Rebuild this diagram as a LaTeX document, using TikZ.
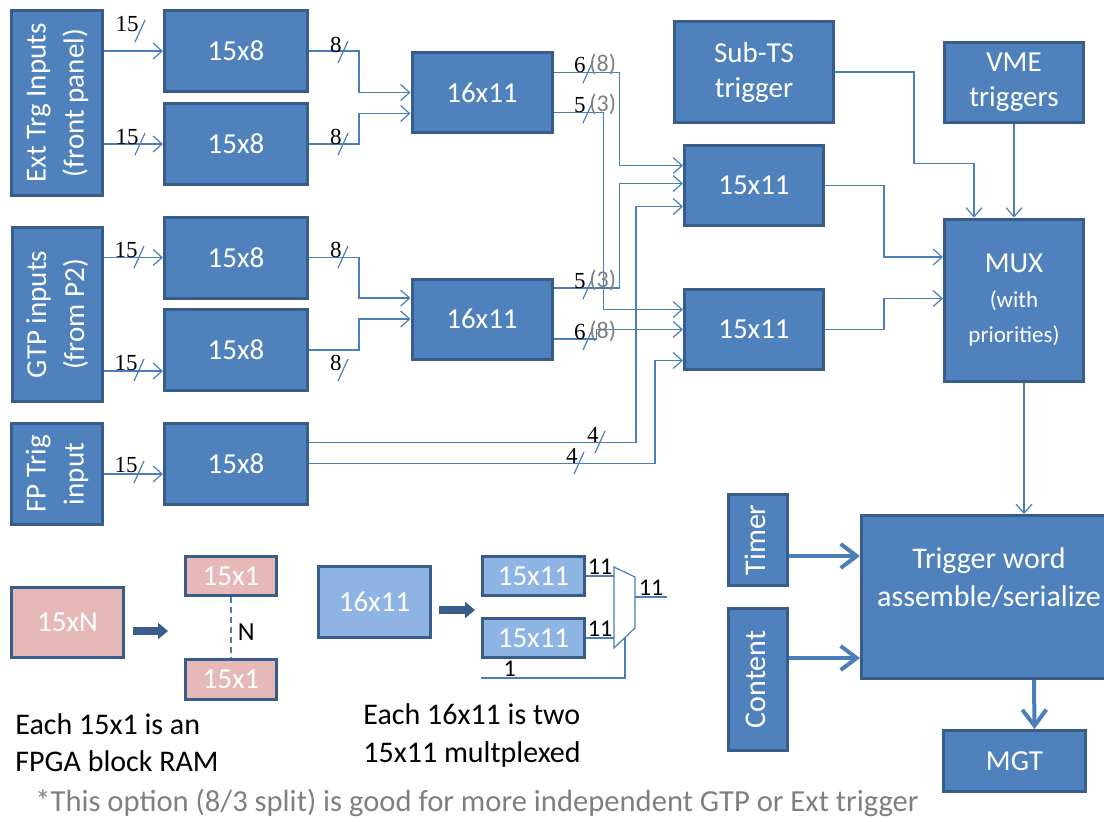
\documentclass[tikz,border=0pt]{standalone}
\usepackage{fontspec}
\usepackage{graphicx}
\setmainfont{Carlito}
\newfontfamily\tmsfont{Liberation Serif}
\usetikzlibrary{arrows.meta,calc,positioning}
\definecolor{blu}{HTML}{4F81BD}
\definecolor{bdr}{HTML}{385D8A}
\definecolor{wirec}{HTML}{4A7EBB}
\definecolor{pnk}{HTML}{E6B9B8}
\definecolor{ltblu}{HTML}{8EB4E3}
\definecolor{gry}{HTML}{7F7F7F}
\newcommand\vtext[1]{\rotatebox{90}{\begin{tabular}{@{}c@{}}#1\end{tabular}}}
\newcommand\fsz[2]{\fontsize{#1}{#2}\selectfont}
\begin{document}
\begin{tikzpicture}[x=0.5pt,y=-0.5pt,
	blk/.style={draw=bdr,fill=blu,line width=1.5pt,text=white,align=center,inner sep=1pt,font=\fsz{14.5}{17.5}},
	box8/.style={blk,minimum width=71.5pt,minimum height=40.5pt},
	box11/.style={blk,minimum width=70pt,minimum height=40pt},
	pinkblk/.style={blk,fill=pnk},
	liteblk/.style={blk,fill=ltblu},
	wire/.style={draw=wirec,line width=0.6pt},
	sig/.style={wire,-{Straight Barb[length=4.5pt,width=8pt]}},
	fat/.style={draw=wirec,line width=2pt,-{Straight Barb[length=8pt,width=12pt]}},
	legarrow/.style={draw=bdr,line width=4pt,-{Triangle[length=5pt,width=8pt]}},
	buslbl/.style={font=\tmsfont\fsz{11.5}{13},inner sep=0pt},
	gryl/.style={font=\fsz{12}{14},text=gry,inner sep=0pt},
	muxl/.style={font=\fsz{12}{14},inner sep=0.5pt}]
	\useasboundingbox (0,0) rectangle (1104,821);
	\clip (0,0) rectangle (1104,821);

	% inputs
	\node[blk,minimum width=45.5pt,minimum height=92.5pt,font=\fsz{14.5}{19}] (ext) at (57,103) {\vtext{Ext Trg Inputs\\(front panel)}};
	\node[blk,minimum width=45pt,minimum height=87pt,font=\fsz{14.5}{19}] (gtp) at (57.5,314.5) {\vtext{GTP inputs\\(from P2)}};
	\node[blk,minimum width=45.5pt,minimum height=50.5pt,font=\fsz{14.5}{19}] (fp) at (57,474) {\vtext{FP Trig\\input}};

	% lookup tables
	\node[box8] (e1) at (236,51) {15x8};
	\node[box8] (e2) at (236,144) {15x8};
	\node[box8] (g1) at (236,257.5) {15x8};
	\node[box8] (g2) at (236,350) {15x8};
	\node[box8] (f1) at (236,463.5) {15x8};
	\node[box11] (a) at (482,92.5) {16x11};
	\node[box11] (b) at (482,319) {16x11};
	\node[box11,minimum width=69.5pt] (c) at (754,185.5) {15x11};
	\node[box11,minimum width=69.5pt] (d) at (754,329.5) {15x11};

	% right column
	\node[blk,minimum width=79.5pt,minimum height=50.5pt] (sub) at (754,72) {Sub-TS\\trigger};
	\node[blk,minimum width=69.5pt,minimum height=40pt] (vme) at (1014,82.5) {VME\\triggers};
	\node[blk,minimum width=69.5pt,minimum height=81pt] (mux) at (1014,300) {MUX\\\fsz{11.5}{14}(with\\\fsz{11.5}{14}priorities)};
	\node[blk,minimum width=125.5pt,minimum height=81.5pt] (trig) at (987,597) {};
	\node[text=white,font=\fsz{15}{19},align=center,anchor=north,inner sep=0] (trigtxt) at (989,547) {Trigger word\\assemble/serialize};
	\node[blk,minimum width=29.5pt,minimum height=45.5pt,font=\fsz{15}{18}] (timer) at (758,540) {\vtext{Timer}};
	\node[blk,minimum width=29.5pt,minimum height=71pt,font=\fsz{15}{18}] (content) at (758,679.5) {\vtext{Content}};
	\node[blk,minimum width=71pt,minimum height=30.5pt] (mgt) at (1014.5,761) {MGT};

	% connections
	\draw[sig] (ext.east |- e1.west) -- (e1.west);
	\draw[sig] (ext.east |- e2.west) -- (e2.west);
	\draw[sig] (gtp.east |- g1.west) -- (g1.west);
	\draw[sig] ($(g2.west -| gtp.east)+(0,21)$) -- ($(g2.west)+(0,21)$);
	\draw[sig] (fp.east) -- (fp.east -| f1.west);
	\draw[sig] (e1.east) -- ++(50,0) |- (a.west);
	\draw[sig] (e2.east) -- ++(50,0) |- ($(a.west)+(0,21)$);
	\draw[sig] (g1.east) -- ++(50,0) |- ($(b.west)+(0,-21)$);
	\draw[sig] (g2.east) -- ++(50,0) |- (b.west);
	\draw[sig] ($(a.east)+(0,-20)$) -- ++(66,0) |- ($(c.west)+(0,-20)$);
	\draw[sig] ($(a.east)+(0,20)$) -- ++(50,0) |- ($(d.west)+(0,-20)$);
	\draw[sig] ($(b.east)+(0,-31)$) -- ++(66,0) |- ($(c.west)+(0,-2)$);
	\draw[sig] ($(b.east)+(0,20)$) -- ++(43,0) |- (d.west);
	\draw[sig] ($(f1.east)+(0,-21)$) -- ++(327,0) |- ($(c.west)+(0,21)$);
	\draw[sig] (f1.east) -- ++(346,0) |- ($(d.west)+(0,31)$);
	\draw[sig] (c.east) -- ++(59,0) |- ($(mux.west)+(0,-43)$);
	\draw[sig] (d.east) -- ++(59,0) |- ($(mux.west)+(0,-1.5)$);
	\draw[sig] (sub.east) -- ++(79,0) |- ($(mux.north)+(-40,-54)$) -- ($(mux.north)+(-40,0)$);
	\draw[sig] (vme.south) -- (mux.north);
	\draw[sig] ($(mux.south)+(10,0)$) -- ($(trig.north)+(37,0)$);
	\draw[fat] ($(trig.south)+(47,0)$) -- ($(mgt.north)+(20,0)$);
	\draw[fat] ($(timer.east)+(0,16)$) -- ($(trig.west)+(0,-41)$);
	\draw[fat] ($(content.east)+(0,-21.5)$) -- ($(trig.west)+(0,61)$);

	% bus widths
	\foreach \x/\y/\t [count=\i] in {140/31/15,140/144/15,139/257/15,139/370/15,139/472/15,343/52/8,343/144/8,343/257/8,343/370/8,600/442/4,579/463/4}{
		\draw[wire] (\x-5,\y+11) -- (\x+5,\y-11);
		\node[buslbl,anchor=base east] (w\i) at (\x-1,\y) {\t};
	}
	\foreach \x/\y/\a/\b [count=\i] in {588/72/6/8,588/112/5/3,588/288/5/3,588/339/6/8}{
		\draw[wire] (\x-5,\y+11) -- (\x+5,\y-11);
		\node[buslbl,anchor=base east] (u\i) at (\x-2,\y) {\a};
		\node[gryl,anchor=base west] (v\i) at (\x+1,\y-1) {(\b)};
	}

	% legend: block RAM split
	\node[pinkblk,minimum width=56pt,minimum height=35pt] (n) at (67.5,622.5) {15xN};
	\node[pinkblk,minimum width=45.5pt,minimum height=19.5pt] (r1) at (231,576) {15x1};
	\node[pinkblk,minimum width=45.5pt,minimum height=20pt] (r2) at (231,679.5) {15x1};
	\draw[legarrow] ($(n.east)+(8,8.5)$) -- ++(35,0);
	\draw[wire,line width=0.8pt,dash pattern=on 3pt off 2pt] (r1.south) -- (r2.north) node[pos=0.58,right,font=\fsz{13}{15},inner sep=3pt] (nlbl) {N};

	% legend: 16x11 as two 15x11
	\node[liteblk,minimum width=56pt,minimum height=35.5pt] (s) at (374.5,602) {16x11};
	\node[liteblk,minimum width=51pt,minimum height=19.5pt] (t1) at (533.5,576) {15x11};
	\node[liteblk,minimum width=51pt,minimum height=19.5pt] (t2) at (533.5,638) {15x11};
	\draw[legarrow] ($(s.east)+(7,8)$) -- ++(36,0);
	\draw[wire] (614,567) -- (635,577) -- (635,628) -- (614,648) -- cycle;
	\coordinate (mxin) at (614,597);
	\coordinate (mxout) at (635,597);
	\coordinate (mxsel) at (625,638);
	\draw[wire] (t1.east) -- (t1.east -| mxin) node[midway,above,muxl] (q1) {11};
	\draw[wire] (t2.east) -- (t2.east -| mxin) node[midway,above,muxl] (q2) {11};
	\draw[wire] (mxout) -- ++(32,0) node[midway,above,muxl] (q3) {11};
	\draw[wire] ($(t2.south west)+(0,19)$) -| (mxsel) node[pos=0.1,above,muxl] (q4) {1};

	% notes
	\node[anchor=north west,align=left,inner sep=0,font=\fsz{15}{18.5}] (cap1) at (15,713) {Each 15x1 is an\\FPGA block RAM};
	\node[anchor=north west,align=left,inner sep=0,font=\fsz{15}{19}] (cap2) at (363,703) {Each 16x11 is two\\15x11 multplexed};
	\node[anchor=base west,inner sep=0,text=gry,font=\fsz{15.3}{18}] (note) at (35,811) {*This option (8/3 split) is good for more independent GTP or Ext trigger};
\end{tikzpicture}
\end{document}
